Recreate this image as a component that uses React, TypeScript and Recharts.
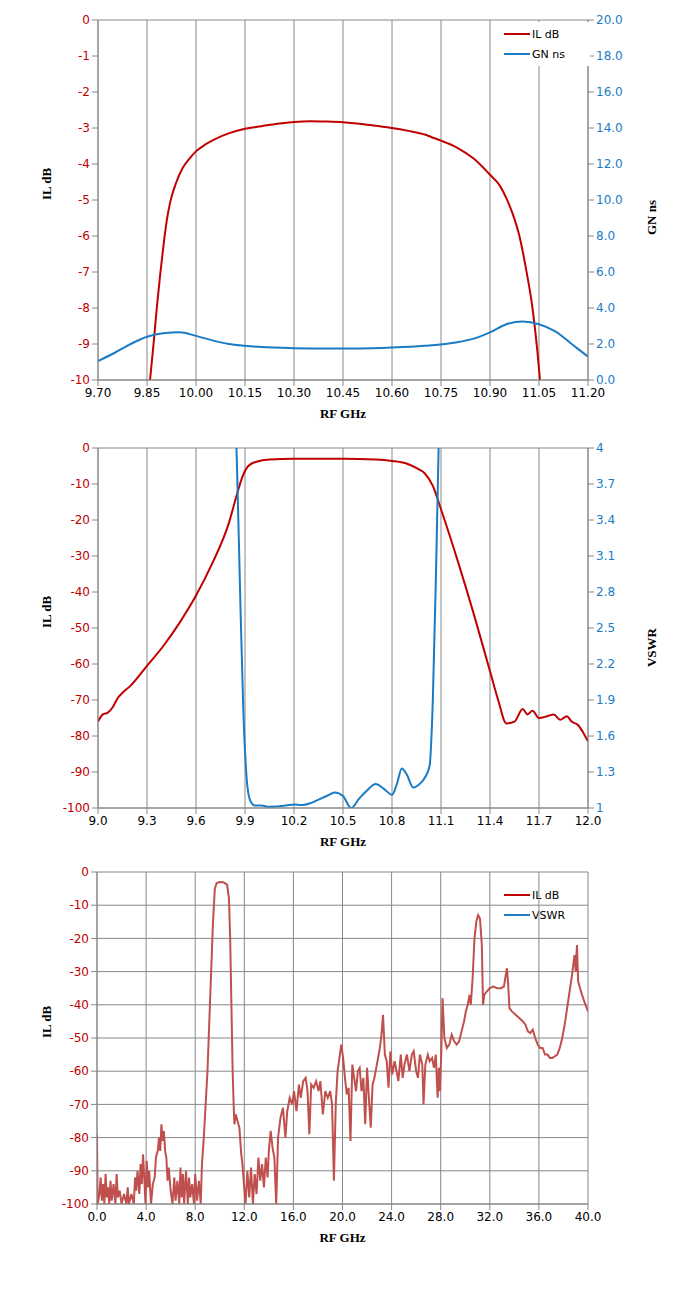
import { LineChart, Line, XAxis, YAxis, CartesianGrid } from 'recharts';

const c1Ticks = [9.7, 9.85, 10.0, 10.15, 10.3, 10.45, 10.6, 10.75, 10.9, 11.05, 11.2];
const c1LeftTicks = [0, -1, -2, -3, -4, -5, -6, -7, -8, -9, -10];
const c1RightTicks = [0, 2, 4, 6, 8, 10, 12, 14, 16, 18, 20];
const c1IL: [number, number][] = [
  [9.855, -10.4], [9.87, -9.0], [9.88, -8.0], [9.89, -7.1], [9.9, -6.3], [9.91, -5.6], [9.92, -5.1], [9.94, -4.5],
  [9.96, -4.1], [9.98, -3.85], [10.0, -3.65], [10.03, -3.45], [10.06, -3.3], [10.1, -3.15], [10.15, -3.02],
  [10.2, -2.95], [10.25, -2.88], [10.3, -2.83], [10.35, -2.81], [10.4, -2.82], [10.45, -2.84], [10.5, -2.88],
  [10.55, -2.94], [10.6, -3.0], [10.65, -3.08], [10.7, -3.18], [10.72, -3.25], [10.75, -3.35], [10.8, -3.55],
  [10.85, -3.85], [10.9, -4.3], [10.93, -4.6], [10.95, -4.95], [10.97, -5.4], [10.99, -6.0], [11.01, -6.9],
  [11.03, -8.0], [11.045, -9.2], [11.056, -10.3],
];
const c1GN: [number, number][] = [
  [9.7, 1.05], [9.75, 1.5], [9.8, 2.0], [9.85, 2.4], [9.9, 2.6], [9.95, 2.65], [10.0, 2.45], [10.05, 2.2],
  [10.1, 2.0], [10.15, 1.9], [10.2, 1.83], [10.3, 1.77], [10.4, 1.75], [10.5, 1.75], [10.6, 1.8], [10.7, 1.9],
  [10.8, 2.1], [10.85, 2.3], [10.9, 2.65], [10.95, 3.1], [11.0, 3.25], [11.05, 3.1], [11.1, 2.7], [11.15, 2.0],
  [11.2, 1.3],
];

const c2Ticks = [9.0, 9.3, 9.6, 9.9, 10.2, 10.5, 10.8, 11.1, 11.4, 11.7, 12.0];
const c2LeftTicks = [0, -10, -20, -30, -40, -50, -60, -70, -80, -90, -100];
const c2RightTicks = [1, 1.3, 1.6, 1.9, 2.2, 2.5, 2.8, 3.1, 3.4, 3.7, 4];
const c2IL: [number, number][] = [
  [9.0, -76], [9.03, -74], [9.06, -73.5], [9.09, -72], [9.12, -69.5], [9.15, -68], [9.2, -66], [9.3, -60.5],
  [9.4, -55], [9.5, -48.5], [9.6, -41], [9.7, -32], [9.8, -21], [9.85, -13], [9.88, -8.5], [9.92, -5],
  [9.97, -3.8], [10.05, -3.2], [10.2, -3.0], [10.5, -3.0], [10.7, -3.2], [10.8, -3.6], [10.9, -4.5],
  [10.96, -5.8], [11.0, -7], [11.05, -10.5], [11.1, -17], [11.2, -31], [11.3, -46], [11.4, -62], [11.45, -70],
  [11.5, -76.5], [11.55, -76], [11.6, -72.5], [11.63, -74], [11.66, -73], [11.7, -75], [11.75, -74.5],
  [11.79, -74], [11.83, -75.5], [11.87, -74.5], [11.9, -76], [11.94, -77], [11.97, -79], [12.0, -81.5],
];
const c2VSWR: [number, number][] = [
  [9.84, 4.3], [9.85, 3.9], [9.87, 2.8], [9.89, 1.8], [9.91, 1.25], [9.93, 1.07], [9.96, 1.02], [10.0, 1.02],
  [10.05, 1.01], [10.15, 1.02], [10.2, 1.03], [10.25, 1.025], [10.3, 1.04], [10.35, 1.07], [10.4, 1.1],
  [10.45, 1.13], [10.5, 1.1], [10.55, 1.0], [10.6, 1.08], [10.65, 1.15], [10.7, 1.2], [10.75, 1.16],
  [10.8, 1.11], [10.83, 1.2], [10.86, 1.33], [10.89, 1.28], [10.93, 1.17], [10.96, 1.19], [11.0, 1.25],
  [11.03, 1.35], [11.05, 1.9], [11.07, 3.0], [11.09, 4.3],
];

const c3Ticks = [0, 4, 8, 12, 16, 20, 24, 28, 32, 36, 40];
const c3LeftTicks = [0, -10, -20, -30, -40, -50, -60, -70, -80, -90, -100];
const c3IL: [number, number][] = [
  [0, -79], [0.05, -100], [0.2, -97], [0.3, -92], [0.4, -99], [0.5, -94], [0.6, -100], [0.7, -91], [0.8, -98],
  [0.9, -95], [1.0, -100], [1.1, -93], [1.2, -99], [1.35, -94], [1.5, -100], [1.6, -91], [1.7, -98], [1.85, -96],
  [2.0, -100], [2.2, -97], [2.4, -100], [2.5, -95], [2.6, -100], [2.8, -97], [3.0, -100], [3.1, -92], [3.2, -96],
  [3.3, -90], [3.45, -97], [3.55, -88], [3.65, -94], [3.75, -85], [3.85, -92], [3.95, -100], [4.05, -87],
  [4.15, -95], [4.25, -90], [4.4, -100], [4.55, -94], [4.7, -92], [4.8, -86], [4.95, -84], [5.05, -80],
  [5.15, -84], [5.25, -76], [5.35, -81], [5.45, -78], [5.55, -84], [5.65, -86], [5.75, -93], [5.85, -89],
  [6.0, -96], [6.15, -100], [6.3, -92], [6.4, -99], [6.55, -93], [6.7, -100], [6.8, -89], [6.9, -98], [7.0, -91],
  [7.1, -100], [7.25, -90], [7.4, -100], [7.5, -92], [7.6, -98], [7.75, -94], [7.9, -100], [8.0, -91],
  [8.15, -99], [8.3, -93], [8.45, -100], [8.55, -88], [8.7, -80], [8.85, -70], [9.0, -60], [9.15, -45],
  [9.3, -30], [9.45, -15], [9.6, -5], [9.75, -3.3], [10.0, -3], [10.3, -3.1], [10.6, -3.8], [10.75, -8],
  [10.85, -20], [10.95, -40], [11.05, -60], [11.15, -72], [11.2, -76], [11.3, -73], [11.45, -75], [11.6, -77],
  [11.75, -85], [11.85, -88], [11.95, -93], [12.1, -100], [12.25, -90], [12.4, -98], [12.55, -89], [12.7, -100],
  [12.85, -91], [13.0, -97], [13.15, -86], [13.3, -93], [13.45, -88], [13.6, -95], [13.75, -86], [13.9, -92],
  [14.0, -84], [14.15, -78], [14.3, -83], [14.45, -86], [14.6, -100], [14.75, -80], [14.95, -74], [15.15, -71],
  [15.35, -80], [15.5, -72], [15.7, -68], [15.9, -70], [16.05, -66], [16.25, -72], [16.45, -64], [16.6, -68],
  [16.8, -63], [17.0, -62], [17.15, -66], [17.3, -79], [17.45, -64], [17.65, -65], [17.85, -63], [18.05, -66],
  [18.2, -63], [18.4, -73], [18.6, -66], [18.8, -68], [19.0, -66], [19.15, -70], [19.3, -93], [19.45, -70],
  [19.6, -60], [19.75, -56], [19.9, -52], [20.05, -56], [20.2, -62], [20.35, -67], [20.5, -65], [20.65, -81],
  [20.8, -58], [20.95, -62], [21.1, -66], [21.25, -60], [21.4, -59], [21.55, -66], [21.7, -62], [21.85, -76],
  [22.0, -59], [22.15, -68], [22.3, -77], [22.45, -64], [22.6, -62], [22.8, -58], [23.0, -54], [23.15, -50],
  [23.3, -43], [23.45, -55], [23.6, -57], [23.75, -65], [23.9, -54], [24.05, -61], [24.25, -57], [24.4, -60],
  [24.55, -63], [24.75, -55], [24.9, -62], [25.05, -58], [25.25, -55], [25.45, -60], [25.65, -55], [25.8, -54],
  [26.0, -60], [26.15, -62], [26.3, -55], [26.5, -58], [26.6, -70], [26.75, -58], [26.95, -55], [27.1, -57],
  [27.3, -56], [27.45, -59], [27.6, -55], [27.75, -68], [27.85, -59], [27.95, -66], [28.05, -54], [28.15, -38],
  [28.3, -50], [28.5, -53], [28.7, -52], [28.9, -49], [29.1, -51], [29.3, -52], [29.5, -51], [29.7, -48],
  [29.9, -45], [30.05, -42], [30.2, -40], [30.35, -37], [30.45, -40], [30.6, -32], [30.75, -20], [30.9, -15],
  [31.05, -13], [31.2, -14], [31.35, -22], [31.45, -40], [31.55, -37], [31.75, -36], [32.0, -35], [32.3, -34.5],
  [32.6, -35], [32.9, -35], [33.15, -34.5], [33.3, -31], [33.4, -29], [33.5, -34], [33.6, -41], [33.8, -42],
  [34.1, -43], [34.4, -44], [34.7, -45], [34.9, -46], [35.1, -48], [35.3, -48.5], [35.5, -47.5], [35.7, -50],
  [35.9, -52], [36.1, -53], [36.3, -53], [36.5, -55], [36.7, -55], [36.9, -56], [37.1, -56], [37.3, -55.5],
  [37.5, -55], [37.7, -53], [37.9, -50], [38.1, -46], [38.3, -41], [38.5, -36], [38.7, -31], [38.9, -25],
  [39.0, -30], [39.1, -22], [39.2, -33], [39.35, -35], [39.6, -38], [39.8, -40], [40.0, -42],
];

const toPts = (arr: [number, number][]) => arr.map(([x, y]) => ({ x, y }));

const RED = '#C00000';
const BLUE = '#1A7BC6';
const RED3 = '#C0504D';
const TICK = { fontFamily: 'DejaVu Sans', fontSize: 12 };
const TITLE = { fontFamily: 'Liberation Serif', fontSize: 13, fontWeight: 'bold', fill: '#000' };

type Item = { name: string; color: string };
function LegendBox({ items, top }: { items: Item[]; top: number }) {
  return (
    <div style={{ position: 'absolute', top, left: 500, width: 86, background: '#fff', padding: '2px 0 2px 4px', fontFamily: 'DejaVu Sans', fontSize: 11 }}>
      {items.map((it) => (
        <div key={it.name} style={{ display: 'flex', alignItems: 'center', height: 20 }}>
          <span style={{ display: 'inline-block', width: 26, height: 2.5, background: it.color, marginRight: 2 }} />
          {it.name}
        </div>
      ))}
    </div>
  );
}

export default function App() {
  return (
    <div style={{ position: 'absolute', left: 0, top: 0, width: 677, height: 1290, background: '#fff' }}>
      <div style={{ position: 'absolute', top: 0, left: 0 }}>
        <LineChart width={677} height={430} margin={{ top: 20, right: 0, left: 0, bottom: 12 }}>
          <CartesianGrid stroke="#888" />
          <XAxis type="number" dataKey="x" domain={[9.7, 11.2]} ticks={c1Ticks} allowDataOverflow
            tickFormatter={(v) => v.toFixed(2)} tick={{ ...TICK, fill: '#000' }} stroke="#888" height={38}
            label={{ value: 'RF GHz', position: 'insideBottom', offset: 0, style: TITLE }} />
          <YAxis yAxisId="l" width={98} domain={[-10, 0]} ticks={c1LeftTicks} allowDataOverflow
            tick={{ ...TICK, fill: RED }} stroke="#888"
            label={{ value: 'IL dB', angle: -90, position: 'insideLeft', offset: 46, style: TITLE }} />
          <YAxis yAxisId="r" orientation="right" width={89} domain={[0, 20]} ticks={c1RightTicks}
            tickFormatter={(v) => v.toFixed(1)} tick={{ ...TICK, fill: BLUE }} stroke="#888"
            label={{ value: 'GN ns', angle: -90, position: 'insideRight', offset: 26, style: TITLE }} />
          <Line yAxisId="l" data={toPts(c1IL)} dataKey="y" stroke={RED} strokeWidth={2} dot={false} isAnimationActive={false} type="monotone" />
          <Line yAxisId="r" data={toPts(c1GN)} dataKey="y" stroke={BLUE} strokeWidth={2} dot={false} isAnimationActive={false} type="monotone" />
        </LineChart>
        <LegendBox top={22} items={[{ name: 'IL dB', color: RED }, { name: 'GN ns', color: BLUE }]} />
      </div>
      <div style={{ position: 'absolute', top: 430, left: 0 }}>
        <LineChart width={677} height={430} margin={{ top: 18, right: 0, left: 0, bottom: 14 }}>
          <CartesianGrid stroke="#888" />
          <XAxis type="number" dataKey="x" domain={[9, 12]} ticks={c2Ticks} allowDataOverflow
            tickFormatter={(v) => v.toFixed(1)} tick={{ ...TICK, fill: '#000' }} stroke="#888" height={38}
            label={{ value: 'RF GHz', position: 'insideBottom', offset: 0, style: TITLE }} />
          <YAxis yAxisId="l" width={98} domain={[-100, 0]} ticks={c2LeftTicks} allowDataOverflow
            tick={{ ...TICK, fill: RED }} stroke="#888"
            label={{ value: 'IL dB', angle: -90, position: 'insideLeft', offset: 46, style: TITLE }} />
          <YAxis yAxisId="r" orientation="right" width={89} domain={[1, 4]} ticks={c2RightTicks} allowDataOverflow
            tick={{ ...TICK, fill: BLUE }} stroke="#888"
            label={{ value: 'VSWR', angle: -90, position: 'insideRight', offset: 26, style: TITLE }} />
          <Line yAxisId="l" data={toPts(c2IL)} dataKey="y" stroke={RED} strokeWidth={2} dot={false} isAnimationActive={false} type="monotone" />
          <Line yAxisId="r" data={toPts(c2VSWR)} dataKey="y" stroke={BLUE} strokeWidth={2} dot={false} isAnimationActive={false} type="monotone" />
        </LineChart>
        <LegendBox top={453} items={[{ name: 'IL dB', color: RED }, { name: 'VSWR', color: BLUE }]} />
      </div>
      <div style={{ position: 'absolute', top: 860, left: 0 }}>
        <LineChart width={677} height={430} margin={{ top: 12, right: 89, left: 0, bottom: 48 }}>
          <CartesianGrid stroke="#888" />
          <XAxis type="number" dataKey="x" domain={[0, 40]} ticks={c3Ticks} allowDataOverflow
            tickFormatter={(v) => v.toFixed(1)} tick={{ ...TICK, fill: '#000' }} stroke="#888" height={38}
            label={{ value: 'RF GHz', position: 'insideBottom', offset: 0, style: TITLE }} />
          <YAxis width={97} domain={[-100, 0]} ticks={c3LeftTicks} allowDataOverflow
            tick={{ ...TICK, fill: RED }} stroke="#888"
            label={{ value: 'IL dB', angle: -90, position: 'insideLeft', offset: 46, style: TITLE }} />
          <Line data={toPts(c3IL)} dataKey="y" stroke={RED3} strokeWidth={2} dot={false} isAnimationActive={false} />
        </LineChart>
        <LegendBox top={876} items={[{ name: 'IL dB', color: RED3 }]} />
      </div>
    </div>
  );
}
